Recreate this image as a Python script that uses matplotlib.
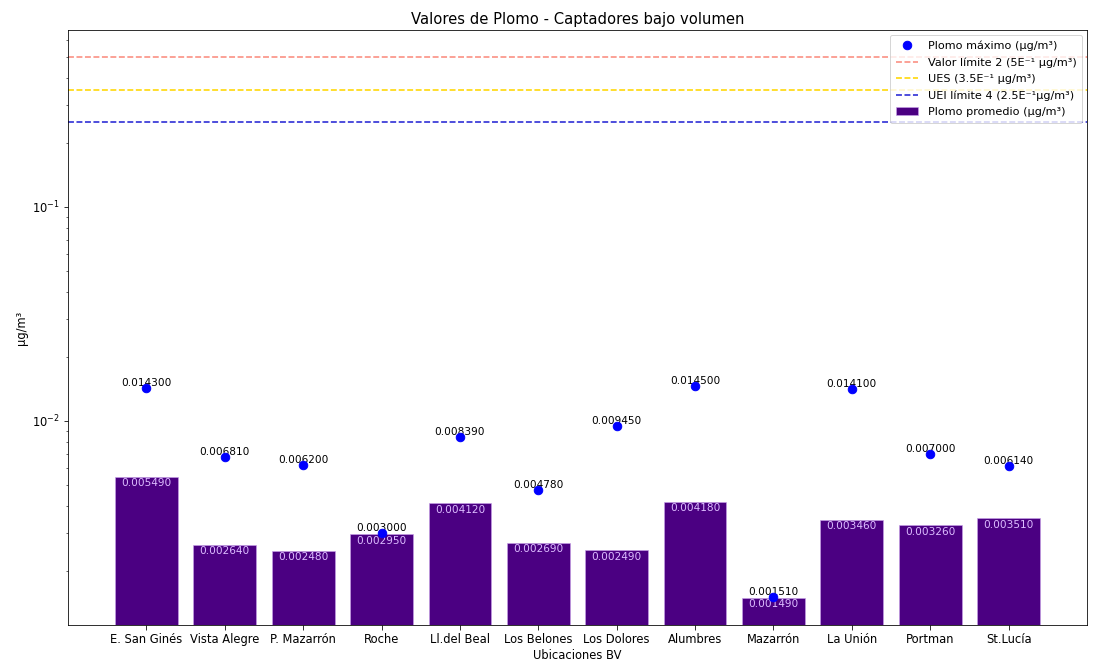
import matplotlib
matplotlib.use("Agg")
import matplotlib.pyplot as plt
import numpy as np

ubicaciones = ["E. San Ginés", "Vista Alegre", "P. Mazarrón", "Roche", "Ll.del Beal",
               "Los Belones", "Los Dolores", "Alumbres", "Mazarrón", "La Unión",
               "Portman", "St.Lucía"]
plomo_max = [0.014300, 0.006810, 0.006200, 0.003000, 0.008390, 0.004780,
             0.009450, 0.014500, 0.001510, 0.014100, 0.007000, 0.006140]
plomo_prom = [0.005490, 0.002640, 0.002480, 0.002950, 0.004120, 0.002690,
              0.002490, 0.004180, 0.001490, 0.003460, 0.003260, 0.003510]
valor_limite = 0.5
ues = 0.35
uei = 0.25

fig = plt.figure(figsize=(1097 / 72, 666 / 72), dpi=72)
ax = fig.add_axes([68 / 1097, 1 - 625 / 666, (1087 - 68) / 1097, (625 - 30) / 666])

x = np.arange(len(ubicaciones))
ax.set_yscale("log")
ax.bar(x, plomo_prom, width=0.8, color="indigo", edgecolor="#c8a0e8",
       linewidth=0.6, label="Plomo promedio (µg/m³)", zorder=1)
ax.plot(x, plomo_max, "o", color="blue", markersize=8.5, label="Plomo máximo (µg/m³)", zorder=3)

ax.axhline(valor_limite, color="salmon", linestyle="--", linewidth=1.6, alpha=0.9,
           label="Valor límite 2 (5E⁻¹ µg/m³)")
ax.axhline(ues, color="gold", linestyle="--", linewidth=1.6,
           label="UES (3.5E⁻¹ µg/m³)")
ax.axhline(uei, color="mediumblue", linestyle="--", linewidth=1.6, alpha=0.85,
           label="UEI límite 4 (2.5E⁻¹µg/m³)")

for xi, v in zip(x, plomo_max):
    ax.text(xi, v, f"{v:.6f}", ha="center", va="bottom", fontsize=10.5, color="black", zorder=2)
for xi, v in zip(x, plomo_prom):
    ax.text(xi, v * 0.985, f"{v:.6f}", ha="center", va="top", fontsize=10.5, color="#dcbcff", zorder=2)

ax.set_xlim(-1, 12)
ax.set_ylim(0.001114, 0.671)
ax.set_xticks(x)
ax.set_xticklabels(ubicaciones, fontsize=11.5)
ax.tick_params(axis="y", labelsize=11.5)
ax.tick_params(which="major", length=4.5)
ax.set_xlabel("Ubicaciones BV", fontsize=11.5, labelpad=3)
ax.set_ylabel("µg/m³", fontsize=11.5)
ax.set_title("Valores de Plomo - Captadores bajo volumen", fontsize=14.8, pad=6)

h, l = ax.get_legend_handles_labels()
order = ["Plomo máximo (µg/m³)", "Valor límite 2 (5E⁻¹ µg/m³)", "UES (3.5E⁻¹ µg/m³)",
         "UEI límite 4 (2.5E⁻¹µg/m³)", "Plomo promedio (µg/m³)"]
hm = dict(zip(l, h))
ax.legend([hm[k] for k in order], order, loc="upper right", fontsize=11.3,
          borderaxespad=0.45, labelspacing=0.55, handletextpad=0.8, borderpad=0.5)

fig.savefig("out.png", dpi=72)
